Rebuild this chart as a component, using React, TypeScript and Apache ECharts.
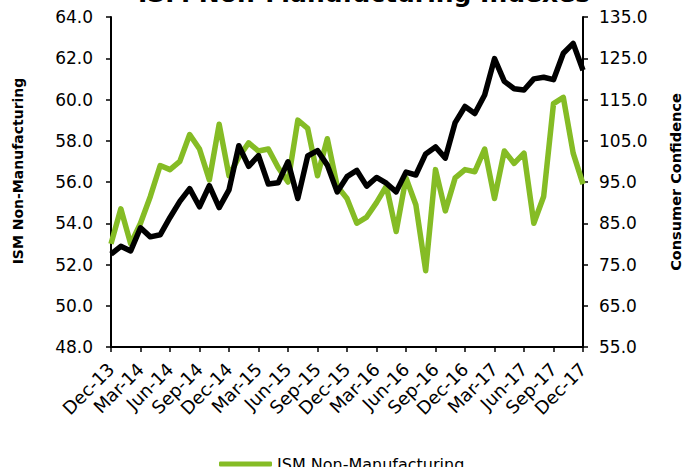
import React, { useEffect, useRef } from "react";
import * as echarts from "echarts";

const months = [
  "Dec-13", "Jan-14", "Feb-14", "Mar-14", "Apr-14", "May-14", "Jun-14", "Jul-14", "Aug-14", "Sep-14", "Oct-14", "Nov-14",
  "Dec-14", "Jan-15", "Feb-15", "Mar-15", "Apr-15", "May-15", "Jun-15", "Jul-15", "Aug-15", "Sep-15", "Oct-15", "Nov-15",
  "Dec-15", "Jan-16", "Feb-16", "Mar-16", "Apr-16", "May-16", "Jun-16", "Jul-16", "Aug-16", "Sep-16", "Oct-16", "Nov-16",
  "Dec-16", "Jan-17", "Feb-17", "Mar-17", "Apr-17", "May-17", "Jun-17", "Jul-17", "Aug-17", "Sep-17", "Oct-17", "Nov-17",
  "Dec-17",
];

const ismNonManufacturing = [
  53.0, 54.7, 53.0, 54.0, 55.3, 56.8, 56.6, 57.0, 58.3, 57.6, 56.1, 58.8,
  56.3, 57.2, 57.9, 57.5, 57.6, 56.7, 56.0, 59.0, 58.6, 56.3, 58.1, 55.8,
  55.2, 54.0, 54.3, 55.0, 55.8, 53.6, 56.2, 54.9, 51.7, 56.6, 54.6, 56.2,
  56.6, 56.5, 57.6, 55.2, 57.5, 56.9, 57.4, 54.0, 55.3, 59.8, 60.1, 57.4,
  55.9,
];

const consumerConfidence = [
  77.5, 79.4, 78.3, 83.9, 81.7, 82.2, 86.4, 90.3, 93.4, 89.0, 94.1, 88.8,
  93.1, 103.8, 98.8, 101.4, 94.5, 94.8, 99.9, 91.0, 101.3, 102.6, 99.1, 92.6,
  96.3, 97.8, 94.0, 96.1, 94.7, 92.6, 97.4, 96.7, 101.8, 103.5, 100.8, 109.4,
  113.3, 111.6, 116.1, 124.9, 119.4, 117.6, 117.3, 120.0, 120.4, 119.8, 126.2, 128.6,
  122.1,
];

const seriesNames = ["ISM Non-Manufacturing", "Consumer Confidence"];
const titleText = "ISM Non-Manufacturing Indexes";

const FONT = '"DejaVu Sans", Verdana, sans-serif';
const GREEN = "#85bc25";

export default function App() {
  const ref = useRef<HTMLDivElement>(null);

  useEffect(() => {
    if (!ref.current) return;
    const chart = echarts.init(ref.current, undefined, { renderer: "svg" });
    const axisCommon = {
      axisLine: { show: true, lineStyle: { color: "#000", width: 2 } },
      axisTick: { show: true, length: 5, lineStyle: { color: "#000", width: 1.5 } },
      splitLine: { show: false },
    };
    chart.setOption({
      animation: false,
      backgroundColor: "#fff",
      textStyle: { fontFamily: FONT },
      graphic: [
        {
          type: "text",
          x: 364,
          y: -7,
          style: {
            text: titleText,
            font: `bold 25px ${FONT}`,
            fill: "#000",
            textAlign: "center",
            textVerticalAlign: "middle",
          },
        },
      ],
      legend: {
        orient: "horizontal",
        left: 214,
        top: 451,
        width: 300,
        itemWidth: 53,
        itemHeight: 5,
        itemGap: 14,
        icon: "roundRect",
        data: seriesNames,
        textStyle: { fontSize: 16, color: "#000", fontFamily: FONT },
      },
      grid: { left: 111, right: 100, top: 17, bottom: 120 },
      xAxis: {
        type: "category",
        data: months,
        boundaryGap: false,
        ...axisCommon,
        axisTick: { show: true, interval: 2, length: 5, lineStyle: { color: "#000", width: 1.5 } },
        axisLabel: { interval: 2, rotate: 45, fontSize: 18, color: "#000", margin: 19 },
      },
      yAxis: [
        {
          type: "value",
          min: 48,
          max: 64,
          interval: 2,
          position: "left",
          name: seriesNames[0],
          nameLocation: "middle",
          nameGap: 86,
          nameTextStyle: { fontWeight: "bold", fontSize: 14, color: "#000", padding: [0, 0, 0, 22] },
          ...axisCommon,
          axisLabel: { fontSize: 17, color: "#000", margin: 18, formatter: (v: number) => v.toFixed(1) },
        },
        {
          type: "value",
          min: 55,
          max: 135,
          interval: 10,
          position: "right",
          name: seriesNames[1],
          nameLocation: "middle",
          nameGap: 85,
          nameTextStyle: { fontWeight: "bold", fontSize: 14.5, color: "#000" },
          ...axisCommon,
          axisLabel: { fontSize: 17, color: "#000", margin: 16, formatter: (v: number) => v.toFixed(1) },
        },
      ],
      series: [
        {
          name: seriesNames[0],
          type: "line",
          yAxisIndex: 0,
          data: ismNonManufacturing,
          showSymbol: false,
          symbol: "none",
          color: GREEN,
          lineStyle: { color: GREEN, width: 5.5, join: "round" },
        },
        {
          name: seriesNames[1],
          type: "line",
          yAxisIndex: 1,
          data: consumerConfidence,
          showSymbol: false,
          symbol: "none",
          color: "#000",
          lineStyle: { color: "#000", width: 5.5, join: "round" },
        },
      ],
    });
    return () => chart.dispose();
  }, []);

  return (
    <div
      ref={ref}
      style={{ position: "fixed", left: 0, top: 0, width: 691, height: 467, background: "#fff" }}
    />
  );
}
